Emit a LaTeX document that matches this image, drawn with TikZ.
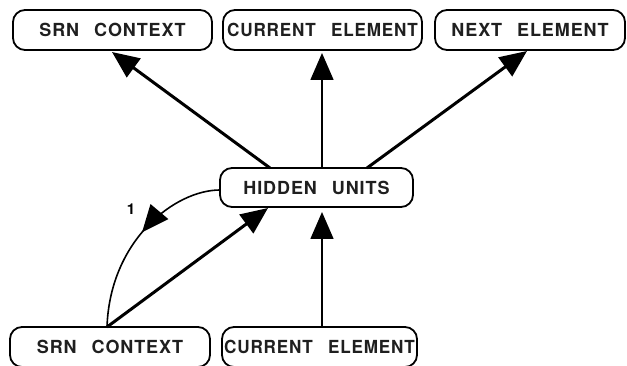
\documentclass[tikz,border=0pt]{standalone}
\usepackage{fontspec}
\setmainfont{TeX Gyre Heros}
\newfontfamily\lsfont[LetterSpace=5]{TeX Gyre Heros}
\usetikzlibrary{arrows.meta,decorations.markings}
\tikzset{
  box/.style={draw, line width=1.8pt, rounded corners=12pt, minimum height=40pt,
    inner sep=0pt, font=\fontsize{18}{20}\selectfont\bfseries\lsfont, text=black!88},
  tip/.style={Triangle[length=27pt,width=23pt]},
  big/.style={line width=3pt, -{Triangle[length=27pt,width=23pt]}},
  thin/.style={line width=1.6pt, -{Triangle[length=27pt,width=23pt]}},
}
\newcommand{\gap}{\hspace{15pt}}
\newcommand{\cur}{\scalebox{0.95}[1]{\fontsize{18}{20}\selectfont\bfseries CURRENT\hspace{16pt}ELEMENT}}
\begin{document}
\begin{tikzpicture}[x=1pt,y=-1pt]
\useasboundingbox (0,0) rectangle (627,366);
\node[box, minimum width=199pt] (srnT) at (112.5,30) {SRN\gap CONTEXT};
\node[box, minimum width=199pt] (curT) at (322.5,30) {\cur};
\node[box, minimum width=190pt] (nextT) at (530,30) {NEXT\gap ELEMENT};
\node[box, minimum width=193pt, minimum height=39pt] (hid) at (316.5,187.5) {HIDDEN\gap UNITS};
\node[box, minimum width=200pt] (srnB) at (110,347) {SRN\gap CONTEXT};
\node[box, minimum width=195pt] (curB) at (319.5,347) {\cur};
\coordinate (hA) at (270,168);
\coordinate (hB) at (322,168);
\coordinate (hC) at (367,168);
\coordinate (tA) at (112,52);
\coordinate (tB) at (322,53);
\coordinate (tC) at (527,51);
\draw[big] (hA) -- (tA);
\draw[thin] (hB) -- (tB);
\draw[big] (hC) -- (tC);
\coordinate (sB) at (107,327);
\coordinate (hD) at (268,208);
\draw[big] (sB) -- (hD);
\coordinate (cB) at (322,327);
\coordinate (hE) at (322,212);
\draw[thin] (cB) -- (hE);
\coordinate (hL) at (220,190);
\draw[line width=1.6pt, postaction={decorate}, decoration={markings,
  mark=at position 0.47 with {\arrow{Triangle[length=27pt,width=23pt]}}}]
  (hL) .. controls (175,190) and (110,240) .. (sB);
\node[font=\fontsize{15}{16}\selectfont\bfseries] (one) at (131,209) {1};
\end{tikzpicture}
\end{document}
